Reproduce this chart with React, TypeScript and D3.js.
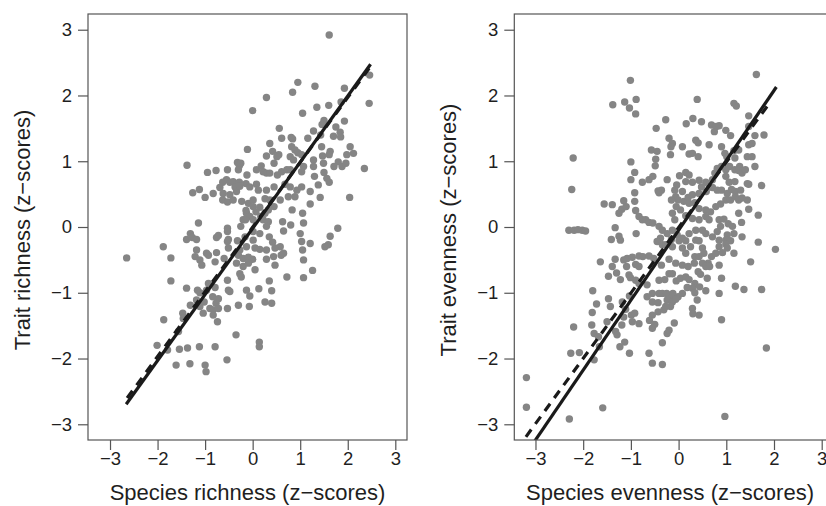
import React, { useEffect, useRef } from "react";
import * as d3 from "d3";

const tickValues = [-3, -2, -1, 0, 1, 2, 3];

const richnessPoints: [number, number][] = [
  [1.61, 2.92], [0.95, 2.2], [0.84, 2.05], [1.31, 2.14], [2.46, 2.31], [1.93, 2.11], [2.45, 1.88], [0.29, 1.97],
  [1.35, 1.82], [1.6, 1.85], [1.86, 1.9], [0, 1.77], [1.05, 1.73], [1.93, 1.61], [1.5, 1.62], [1.46, 1.56],
  [1.75, 1.52], [1.84, 1.44], [1.85, 1.37], [1.7, 1.38], [0.56, 1.5], [1.16, 1.35], [1.28, 1.46], [1.43, 1.4],
  [0.81, 1.36], [0.84, 1.34], [0.36, 1.27], [0.42, 1.15], [0.61, 1.35], [0.82, 1.22], [0.89, 1.17], [1.45, 1.22],
  [1.63, 1.15], [2.05, 1.22], [2.12, 1.12], [-0.11, 1.18], [0.55, 1.1], [0.29, 1.08], [0.51, 1.07], [0.79, 1.07],
  [0.86, 1.02], [0.95, 1.13], [1.03, 1.1], [1.47, 1.08], [1.61, 1.1], [1.98, 1.1], [1.8, 0.99], [1.88, 0.92],
  [1.96, 0.97], [2.35, 0.89], [1.71, 0.92], [1.28, 1.02], [1.28, 0.92], [1.49, 0.97], [0.45, 0.97], [-0.32, 0.98],
  [-0.28, 0.93], [-0.25, 0.97], [-1.38, 0.94], [-0.53, 0.87], [-0.3, 0.87], [-0.12, 0.79], [0.08, 0.87], [0.18, 0.93],
  [0.22, 0.84], [0.29, 0.82], [0.36, 0.82], [0.52, 0.79], [0.61, 0.84], [0.72, 0.87], [0.79, 0.87], [1.03, 0.84],
  [1.07, 0.92], [1.3, 0.77], [1.5, 0.83], [1.56, 0.74], [1.61, 0.68], [1.38, 0.64], [-0.95, 0.83], [-0.77, 0.86],
  [-0.55, 0.72], [-0.63, 0.68], [-0.48, 0.68], [-0.41, 0.69], [-0.28, 0.68], [-0.14, 0.66], [-0.37, 0.61], [-0.69, 0.6],
  [-1.26, 0.52], [-1.12, 0.57], [-0.83, 0.51], [-0.62, 0.51], [-0.48, 0.49], [-0.34, 0.54], [-0.27, 0.62], [-0.06, 0.61],
  [0.08, 0.65], [0.12, 0.56], [0.29, 0.56], [0.45, 0.61], [0.68, 0.65], [0.79, 0.61], [0.93, 0.56], [1.03, 0.61],
  [1.21, 0.54], [-1.0, 0.45], [-0.63, 0.41], [-0.53, 0.38], [-0.41, 0.41], [-0.23, 0.39], [-0.09, 0.36], [0.01, 0.41],
  [0.26, 0.43], [0.36, 0.41], [0.45, 0.31], [0.58, 0.41], [0.75, 0.46], [0.89, 0.46], [1.42, 0.45], [2.04, 0.45],
  [1.21, 0.35], [0.01, 0.31], [0.15, 0.3], [-0.14, 0.25], [0.07, 0.23], [-0.13, 0.21], [0.26, 0.21], [0.33, 0.26],
  [0.83, 0.26], [1.05, 0.21], [-0.06, 0.16], [0.01, 0.11], [0.17, 0.16], [-0.2, 0.11], [0.22, 0.11], [0.33, 0.08],
  [-1.14, 0.06], [-0.53, -0.02], [-0.25, 0.01], [-0.15, 0.11], [0.29, 0.01], [0.63, 0.08], [0.8, 0.03], [1.07, 0.06],
  [1.79, -0.02], [-0.53, -0.07], [-0.76, -0.16], [-0.72, -0.13], [-1.39, -0.19], [-1.31, -0.1], [-1.27, -0.16], [-1.18, -0.19],
  [0.01, -0.07], [0.65, -0.06], [1.0, -0.1], [1.63, -0.14], [-0.51, -0.19], [-0.53, -0.22], [-0.32, -0.21], [-0.16, -0.15],
  [0.01, -0.2], [0.15, -0.1], [0.35, -0.15], [0.42, -0.23], [0.58, -0.3], [1.03, -0.22], [1.21, -0.25], [1.59, -0.27],
  [1.52, -0.3], [-1.88, -0.3], [-1.18, -0.35], [-0.97, -0.4], [-0.76, -0.39], [-0.51, -0.32], [-0.27, -0.35], [-0.13, -0.3],
  [0.05, -0.32], [0.15, -0.34], [0.29, -0.35], [0.47, -0.32], [0.65, -0.4], [1.05, -0.35], [-1.72, -0.47], [-1.21, -0.45],
  [-1.11, -0.5], [-0.93, -0.43], [-0.79, -0.53], [-0.6, -0.48], [-0.3, -0.43], [-0.2, -0.48], [-0.09, -0.46], [0.0, -0.49],
  [0.29, -0.49], [0.44, -0.45], [0.6, -0.43], [1.07, -0.5], [-2.65, -0.47], [-1.07, -0.58], [-0.34, -0.55], [-0.2, -0.6],
  [-0.09, -0.55], [0.47, -0.58], [-0.27, -0.71], [0.05, -0.65], [0.72, -0.76], [1.07, -0.77], [1.26, -0.66], [-1.72, -0.82],
  [-0.93, -0.86], [-0.53, -0.81], [-0.24, -0.76], [0.35, -0.82], [-1.39, -0.93], [-1.16, -0.96], [-0.97, -0.96], [-1.11, -1.0],
  [-0.79, -0.92], [-0.51, -0.96], [-0.13, -0.96], [0.13, -0.94], [-0.48, -0.98], [0.4, -0.97], [-0.06, -1.05], [-1.18, -1.11],
  [-1.02, -1.14], [-0.84, -1.06], [-0.72, -1.09], [-0.77, -1.16], [-1.31, -1.19], [-1.11, -1.21], [-0.3, -1.19], [0.26, -1.14],
  [0.4, -1.16], [-0.9, -1.24], [-0.53, -1.24], [-0.07, -1.21], [-0.83, -1.26], [-0.72, -1.24], [-1.47, -1.31], [-1.04, -1.31],
  [-1.46, -1.39], [-0.83, -1.34], [-0.74, -1.44], [-1.87, -1.41], [-0.35, -1.64], [-1.56, -1.59], [0.14, -1.75], [0.14, -1.82],
  [-2.01, -1.8], [-1.79, -1.87], [-1.54, -1.86], [-1.37, -1.84], [-1.12, -1.82], [-0.79, -1.82], [-0.54, -2.02], [-1.61, -2.1],
  [-1.32, -2.08], [-1.0, -2.1], [-0.98, -2.2],
];

const evennessPoints: [number, number][] = [
  [1.63, 2.32], [-1.01, 2.23], [0.39, 1.94], [-0.89, 1.94], [-1.13, 1.9], [-1.38, 1.86], [-1.03, 1.81], [-0.9, 1.72],
  [1.16, 1.88], [1.21, 1.84], [-0.27, 1.63], [-0.47, 1.5], [0.3, 1.65], [0.48, 1.6], [0.16, 1.57], [0.69, 1.55],
  [0.79, 1.53], [0.85, 1.54], [0.75, 1.45], [0.99, 1.47], [1.09, 1.39], [1.47, 1.69], [1.47, 1.53], [1.79, 1.4],
  [1.6, 1.39], [1.54, 1.27], [1.47, 1.25], [1.44, 1.07], [1.54, 1.07], [1.6, 0.92], [-0.2, 1.35], [-0.13, 1.27],
  [-0.16, 1.22], [0.08, 1.22], [0.36, 1.32], [0.41, 1.28], [0.9, 1.22], [0.97, 1.12], [1.16, 1.16], [1.26, 1.17],
  [1.01, 1.07], [1.18, 1.05], [1.28, 0.92], [0.64, 1.25], [0.22, 1.11], [0.29, 1.12], [0.41, 1.07], [-0.57, 1.17],
  [-0.45, 1.15], [-0.48, 1.03], [-0.49, 0.93], [-1.0, 0.99], [-0.17, 1.1], [-2.21, 1.05], [-0.92, 0.83], [-1.0, 0.72],
  [-0.76, 0.68], [-0.62, 0.72], [-0.54, 0.77], [-0.36, 0.56], [-0.43, 0.55], [-0.41, 0.52], [-0.24, 0.72], [0.15, 0.83],
  [0.22, 0.79], [0.02, 0.78], [0.15, 0.69], [0.29, 0.68], [0.43, 0.71], [0.48, 0.61], [0.57, 0.68], [0.71, 0.72],
  [0.76, 0.82], [0.81, 0.89], [0.9, 0.92], [0.99, 0.87], [1.07, 0.92], [1.18, 0.87], [1.26, 0.86], [1.33, 0.82],
  [1.4, 0.87], [0.99, 0.77], [1.06, 0.68], [1.18, 0.69], [1.47, 0.65], [1.74, 0.63], [1.44, 0.66], [-0.04, 0.64],
  [-0.08, 0.56], [0.08, 0.54], [-0.06, 0.46], [-0.01, 0.41], [0.11, 0.39], [0.2, 0.45], [0.29, 0.49], [0.43, 0.51],
  [0.58, 0.54], [0.64, 0.61], [0.71, 0.6], [0.81, 0.56], [0.9, 0.56], [1.02, 0.51], [1.11, 0.57], [1.19, 0.54],
  [1.3, 0.56], [0.99, 0.41], [1.09, 0.41], [1.19, 0.46], [1.26, 0.41], [1.33, 0.44], [1.44, 0.41], [1.47, 0.27],
  [0.88, 0.35], [0.78, 0.31], [0.67, 0.23], [0.57, 0.26], [0.43, 0.28], [0.34, 0.37], [0.22, 0.36], [0.04, 0.26],
  [-0.15, 0.41], [-0.05, 0.31], [-0.92, 0.52], [-0.92, 0.39], [-1.15, 0.4], [-1.19, 0.27], [-1.1, 0.31], [-1.56, 0.35],
  [-1.39, 0.34], [-1.25, 0.21], [-2.24, 0.57], [-0.9, 0.25], [-0.83, 0.16], [-0.76, 0.11], [-0.69, 0.11], [-0.62, 0.07],
  [-0.54, 0.06], [-0.41, 0.01], [-0.13, 0.21], [-0.08, 0.11], [0.15, 0.17], [0.29, 0.13], [0.43, 0.11], [0.57, 0.16],
  [0.64, 0.11], [0.85, 0.11], [0.95, 0.12], [1.04, 0.05], [1.13, 0.01], [1.26, 0.21], [1.32, 0.07], [1.67, 0.18],
  [-2.3, -0.05], [-2.19, -0.05], [-2.11, -0.04], [-2.02, -0.05], [-1.95, -0.06], [-1.33, -0.01], [-1.25, -0.14], [-1.41, -0.19],
  [-0.89, -0.1], [-0.34, -0.05], [-0.24, -0.1], [-0.13, -0.05], [-0.03, -0.12], [0.08, -0.17], [0.22, -0.1], [0.36, -0.05],
  [0.5, -0.05], [0.57, -0.1], [0.71, -0.15], [0.81, -0.07], [0.88, 0.01], [1.02, -0.12], [1.16, -0.1], [1.33, -0.15],
  [0.85, -0.2], [0.99, -0.2], [1.09, -0.21], [-0.15, -0.19], [0.01, -0.21], [0.15, -0.21], [0.36, -0.2], [0.43, -0.21],
  [-1.22, -0.2], [-0.38, -0.17], [-0.45, -0.22], [-0.34, -0.27], [-0.27, -0.27], [-0.13, -0.3], [0.08, -0.32], [0.15, -0.4],
  [0.25, -0.3], [0.34, -0.45], [0.43, -0.45], [0.5, -0.32], [0.53, -0.4], [0.62, -0.55], [0.69, -0.45], [0.78, -0.4],
  [0.85, -0.3], [0.92, -0.39], [0.99, -0.26], [1.02, -0.32], [1.16, -0.4], [1.67, -0.23], [2.03, -0.34], [1.51, -0.53],
  [-1.64, -0.53], [-1.33, -0.49], [-1.08, -0.48], [-0.97, -0.46], [-0.83, -0.44], [-0.75, -0.45], [-0.62, -0.44], [-0.52, -0.48],
  [-0.2, -0.49], [-0.36, -0.58], [-0.06, -0.55], [0.08, -0.58], [0.2, -0.6], [0.33, -0.55], [0.41, -0.68], [0.5, -0.55],
  [0.57, -0.6], [0.65, -0.6], [0.85, -0.58], [-1.15, -0.5], [-1.39, -0.6], [-1.3, -0.7], [-1.09, -0.6], [-0.9, -0.57],
  [-0.83, -0.6], [-1.47, -0.75], [-1.22, -0.8], [-1.04, -0.73], [-1.01, -0.77], [-0.9, -0.81], [-0.83, -0.86], [-0.66, -0.88],
  [-0.41, -0.81], [-0.29, -0.8], [-0.2, -0.71], [-0.13, -0.71], [-0.05, -0.82], [0.04, -0.78], [0.15, -0.76], [0.22, -0.8],
  [0.34, -0.86], [0.46, -0.72], [0.6, -0.78], [0.9, -0.78], [1.19, -0.9], [1.37, -0.95], [1.74, -0.95], [-1.8, -0.97],
  [-1.47, -1.09], [-1.72, -1.17], [-1.43, -1.21], [-1.81, -1.3], [-1.03, -1.05], [-0.66, -1.06], [-0.55, -1.01], [-0.41, -1.01],
  [-0.34, -1.01], [-0.25, -1.01], [-0.19, -1.09], [-0.12, -1.01], [-0.01, -1.06], [0.08, -1.01], [0.18, -0.92], [0.29, -0.93],
  [0.34, -1.0], [0.44, -0.91], [0.57, -0.97], [0.85, -1.01], [-1.18, -1.14], [-1.11, -1.25], [-0.55, -1.14], [-0.43, -1.15],
  [-0.24, -1.11], [-0.13, -1.14], [-0.17, -1.21], [-0.06, -1.1], [0.39, -1.11], [0.29, -1.24], [0.43, -1.34], [0.3, -1.32],
  [-0.99, -1.34], [-0.92, -1.31], [-1.15, -1.37], [-0.55, -1.34], [-0.43, -1.29], [-0.31, -1.26], [-0.27, -1.21], [-2.2, -1.52],
  [-1.82, -1.49], [-1.5, -1.44], [-1.32, -1.59], [-1.19, -1.49], [-0.97, -1.44], [-0.83, -1.47], [-0.61, -1.42], [-0.55, -1.54],
  [-0.5, -1.48], [-0.09, -1.46], [0.9, -1.41], [-1.77, -1.62], [-1.68, -1.67], [-1.66, -1.82], [-1.29, -1.64], [-1.13, -1.75],
  [-1.23, -1.82], [-1.03, -1.92], [-0.62, -1.92], [-0.24, -1.62], [-0.2, -1.57], [-0.34, -1.76], [-2.26, -1.92], [-2.08, -1.91],
  [-1.77, -2.02], [-0.55, -2.07], [-0.34, -2.09], [1.84, -1.84], [-3.19, -2.29], [-3.19, -2.74], [-2.29, -2.92], [-1.59, -2.75],
  [0.97, -2.88],
];

const richnessFits = [
  { intercept: 0.0, slope: 0.985, from: -2.64, to: 2.45, dashed: true },
  { intercept: -0.02, slope: 1.006, from: -2.66, to: 2.48, dashed: false },
];

const evennessFits = [
  { intercept: -0.01, slope: 0.994, from: -3.2, to: 1.86, dashed: true },
  { intercept: -0.05, slope: 1.063, from: -3.25, to: 2.05, dashed: false },
];

const panels = [
  {
    id: "richness",
    points: richnessPoints,
    fits: richnessFits,
    xLabel: "Species richness (z\u2212scores)",
    yLabel: "Trait richness (z\u2212scores)",
    left: 88,
    right: 407,
    xDomain: [-3.463, 3.246],
    yTitleX: 30,
    xTitleX: 247.5,
  },
  {
    id: "evenness",
    points: evennessPoints,
    fits: evennessFits,
    xLabel: "Species evenness (z\u2212scores)",
    yLabel: "Trait evenness (z\u2212scores)",
    left: 514.3,
    right: 828,
    xDomain: [-3.444, 3.132],
    yTitleX: 456,
    xTitleX: 670,
  },
];

const TOP = 14;
const BOTTOM = 440;
const Y_DOMAIN = [-3.239, 3.239];
const FONT = '"Liberation Sans", Arial, Helvetica, sans-serif';
const TEXT_COLOR = "#1f1f1f";

export default function App() {
  const ref = useRef<SVGSVGElement | null>(null);

  useEffect(() => {
    const svg = d3.select(ref.current);
    svg.selectAll("*").remove();

    panels.forEach((p) => {
      const x = d3.scaleLinear().domain(p.xDomain).range([p.left, p.right]);
      const y = d3.scaleLinear().domain(Y_DOMAIN).range([BOTTOM, TOP]);
      const g = svg.append("g");

      const clipId = `clip-${p.id}`;
      g.append("clipPath")
        .attr("id", clipId)
        .append("rect")
        .attr("x", p.left)
        .attr("y", TOP)
        .attr("width", p.right - p.left)
        .attr("height", BOTTOM - TOP);

      const plot = g.append("g").attr("clip-path", `url(#${clipId})`);

      plot
        .selectAll("circle")
        .data(p.points)
        .join("circle")
        .attr("cx", (d) => x(d[0]))
        .attr("cy", (d) => y(d[1]))
        .attr("r", 3.7)
        .attr("fill", "#858585");

      p.fits.forEach((f) => {
        plot
          .append("path")
          .datum([f.from, f.to])
          .attr(
            "d",
            d3
              .line<number>()
              .x((v) => x(v))
              .y((v) => y(f.intercept + f.slope * v))
          )
          .attr("fill", "none")
          .attr("stroke", "#1a1a1a")
          .attr("stroke-width", 3.2)
          .attr("stroke-dasharray", f.dashed ? "9,7" : null);
      });

      g.append("rect")
        .attr("x", p.left)
        .attr("y", TOP)
        .attr("width", p.right - p.left)
        .attr("height", BOTTOM - TOP)
        .attr("fill", "none")
        .attr("stroke", "#555")
        .attr("stroke-width", 1.2);

      const fmt = d3.format("d");

      const yAxis = g
        .append("g")
        .attr("transform", `translate(${p.left},0)`)
        .call(d3.axisLeft(y).tickValues(tickValues).tickSize(10).tickPadding(6).tickFormat(fmt as any));
      yAxis.select(".domain").remove();
      yAxis.selectAll("line").attr("stroke", "#555").attr("stroke-width", 1.2);
      yAxis
        .selectAll("text")
        .attr("fill", TEXT_COLOR)
        .style("font-size", "18.5px")
        .style("font-family", FONT);

      const xAxis = g
        .append("g")
        .attr("transform", `translate(0,${BOTTOM})`)
        .call(d3.axisBottom(x).tickValues(tickValues).tickSize(10).tickPadding(3).tickFormat(fmt as any));
      xAxis.select(".domain").remove();
      xAxis.selectAll("line").attr("stroke", "#555").attr("stroke-width", 1.2);
      xAxis
        .selectAll("text")
        .attr("dy", "0")
        .attr("y", 24.5)
        .attr("fill", TEXT_COLOR)
        .style("font-size", "18.5px")
        .style("font-family", FONT);

      g.append("text")
        .attr("x", p.xTitleX)
        .attr("y", 500)
        .attr("text-anchor", "middle")
        .attr("fill", TEXT_COLOR)
        .style("font-size", "22px")
        .style("font-family", FONT)
        .text(p.xLabel);

      g.append("text")
        .attr("transform", `translate(${p.yTitleX},${(TOP + BOTTOM) / 2 + 3}) rotate(-90)`)
        .attr("text-anchor", "middle")
        .attr("fill", TEXT_COLOR)
        .style("font-size", "22px")
        .style("font-family", FONT)
        .text(p.yLabel);
    });
  }, []);

  return (
    <svg
      ref={ref}
      width={826}
      height={506}
      style={{ position: "absolute", left: 0, top: 0, background: "#fff" }}
    />
  );
}
